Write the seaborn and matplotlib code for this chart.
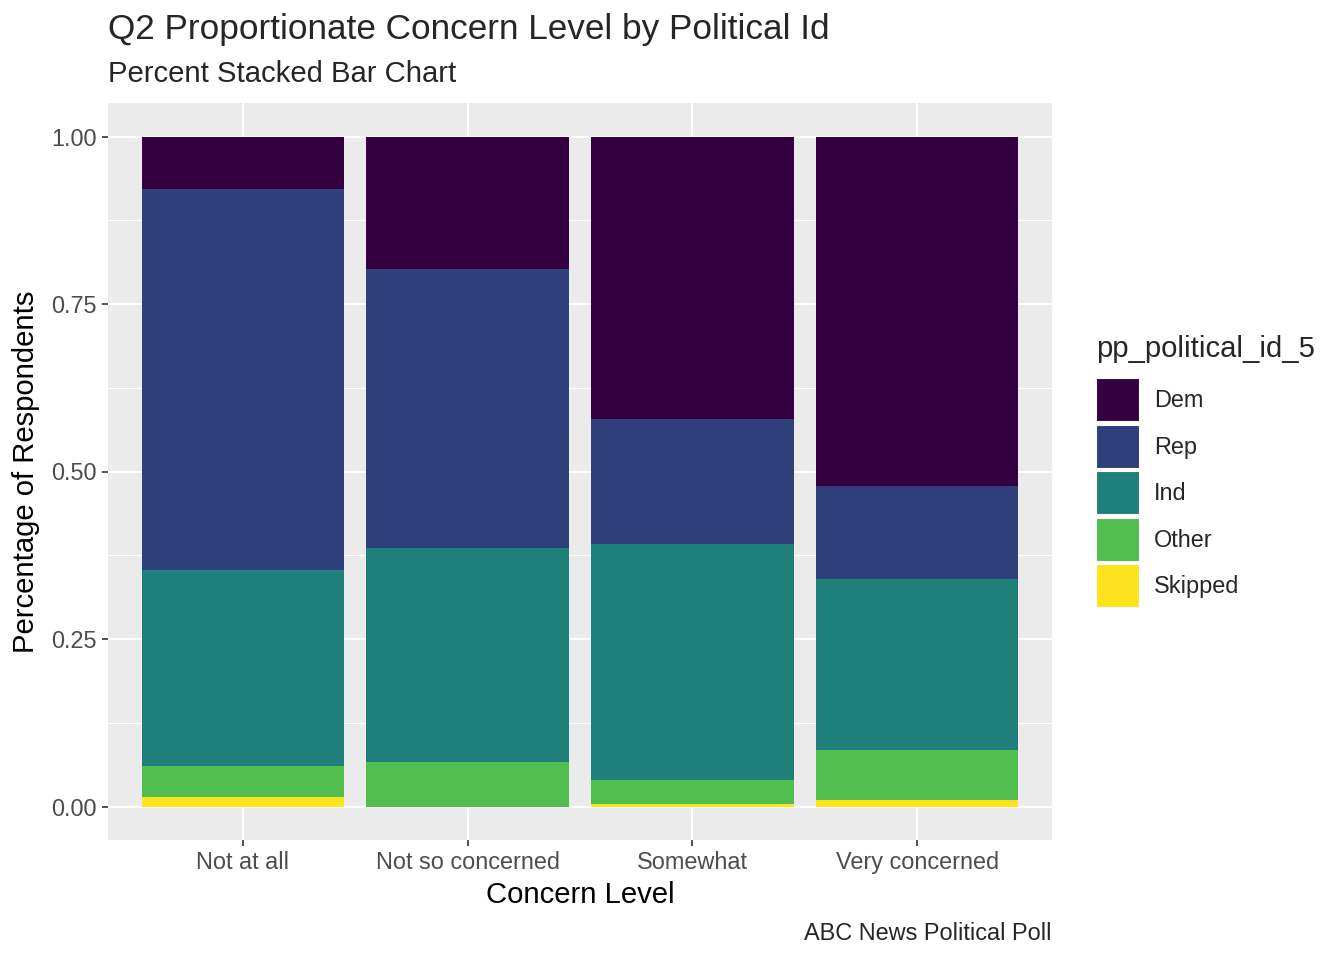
import matplotlib
matplotlib.use("Agg")
import matplotlib.pyplot as plt
from matplotlib.patches import Patch
from matplotlib.ticker import MultipleLocator
import seaborn as sns
import pandas as pd

# proportions, per concern level
concern = ["Not at all", "Not so concerned", "Somewhat", "Very concerned"]
parties = ["Dem", "Rep", "Ind", "Other", "Skipped"]
dem = [0.078, 0.198, 0.422, 0.522]
rep = [0.569, 0.416, 0.186, 0.138]
ind = [0.292, 0.320, 0.352, 0.255]
other = [0.047, 0.066, 0.036, 0.075]
skipped = [0.014, 0.000, 0.004, 0.010]
colors = ["#35003F", "#2E3F7A", "#1F7F7A", "#50BF50", "#FDE31E"]

rows = []
for p, vals in zip(parties, [dem, rep, ind, other, skipped]):
    for c, v in zip(concern, vals):
        rows.append({"concern": c, "party": p, "prop": v})
df = pd.DataFrame(rows)
df["concern"] = pd.Categorical(df["concern"], categories=concern, ordered=True)

sns.set_theme(style="white")
plt.rcParams["font.family"] = ["Liberation Sans", "DejaVu Sans"]

small = 16.9
base = 21.1

fig = plt.figure(figsize=(13.44, 9.6), dpi=100)
ax = fig.add_axes([108 / 1344, 1 - 840 / 960, (1052 - 108) / 1344, (840 - 103) / 960])
ax.set_facecolor("#EBEBEB")

sns.histplot(data=df, x="concern", weights="prop", hue="party", hue_order=parties,
             multiple="fill", discrete=True, shrink=0.9, palette=colors,
             alpha=1, linewidth=0, ax=ax, legend=False, zorder=3)

ax.set_xlim(-0.6, 3.6)
ax.set_ylim(-0.05, 1.05)
ax.set_xticks(range(4))
ax.set_xticklabels(concern)
ax.yaxis.set_major_locator(MultipleLocator(0.25))
ax.yaxis.set_minor_locator(MultipleLocator(0.125))
ax.set_yticklabels([f"{t:.2f}" for t in ax.get_yticks()])
ax.grid(which="major", color="white", linewidth=1.5, zorder=1)
ax.grid(which="minor", axis="y", color="white", linewidth=0.75, zorder=1)
ax.set_axisbelow(True)
for s in ax.spines.values():
    s.set_visible(False)
ax.tick_params(axis="both", which="major", length=4, width=1.2, color="#333333",
               labelsize=small, labelcolor="#4D4D4D", pad=4, direction="out",
               bottom=True, left=True)
ax.tick_params(axis="y", which="minor", length=0)

ax.set_xlabel("Concern Level", fontsize=base, color="black", labelpad=5)
ax.set_ylabel("Percentage of Respondents", fontsize=base, color="black", labelpad=8)

fig.text(108 / 1344, 1 - 29 / 960, "Q2 Proportionate Concern Level by Political Id",
         fontsize=25.3, va="center", ha="left")
fig.text(108 / 1344, 1 - 74 / 960, "Percent Stacked Bar Chart",
         fontsize=base, va="center", ha="left")
fig.text(1052 / 1344, 1 - 933 / 960, "ABC News Political Poll",
         fontsize=small, va="center", ha="right")

# legend
fig.text(1096 / 1344, 1 - 349 / 960, "pp_political_id_5",
         fontsize=base, va="center", ha="left")
handles = [Patch(facecolor=c, edgecolor="white", linewidth=1.5) for c in colors]
fig.legend(handles, parties, loc="upper left",
           bbox_to_anchor=(1096 / 1344, 1 - 378 / 960), frameon=False,
           fontsize=small, handlelength=1.87, handleheight=2.52,
           labelspacing=0.1, handletextpad=0.6, borderaxespad=0, borderpad=0)

fig.savefig("out.png", dpi=100)
